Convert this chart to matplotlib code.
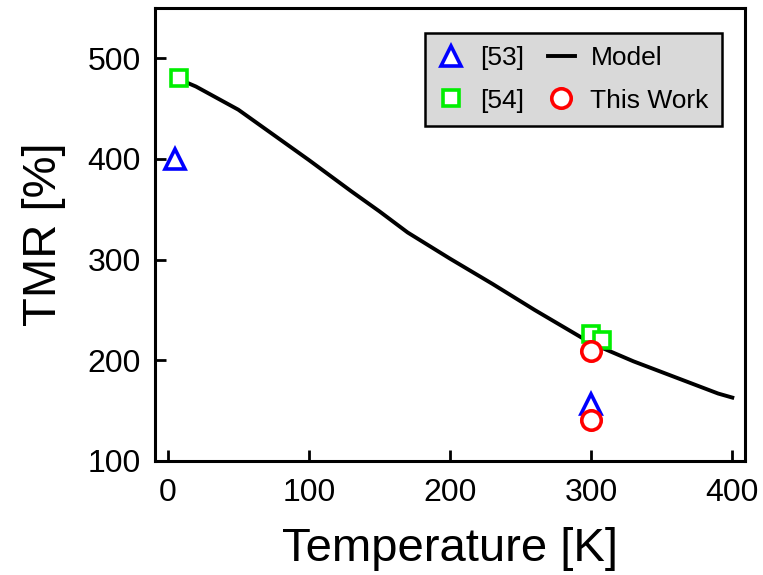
import matplotlib
matplotlib.use("Agg")
import matplotlib.pyplot as plt

plt.rcParams['font.family'] = ['Liberation Sans', 'DejaVu Sans']

# model curve
model_T = [10, 20, 50, 80, 100, 130, 150, 170, 200, 230, 260, 300, 330, 360, 390, 400]
model_tmr = [478, 472, 449, 419, 399, 368, 348, 327, 301, 276, 250, 217, 199, 183, 167, 163]

# ref [53]
ref53_T = [5, 300]
ref53_tmr = [400, 157]

# ref [54]
ref54_T = [8, 300, 308]
ref54_tmr = [480, 226, 220]

# this work
work_T = [300, 300]
work_tmr = [209, 141]

fig = plt.figure(figsize=(7.63, 5.75), dpi=100)
ax = fig.add_axes([155/763, 1-461/575, 590/763, 453/575])

ax.plot(model_T, model_tmr, color='black', lw=2.8, label='Model')
ax.plot(ref53_T, ref53_tmr, ls='none', marker='^', ms=14, mfc='white', mec='blue', mew=2.6, label='[53]')
ax.plot(ref54_T, ref54_tmr, ls='none', marker='s', ms=12, mfc='white', mec='#00ee00', mew=2.6, label='[54]')
ax.plot(work_T, work_tmr, ls='none', marker='o', ms=14, mfc='white', mec='red', mew=2.6, label='This Work')

ax.set_xlim(-9, 409)
ax.set_ylim(100, 550)
ax.set_xticks([0, 100, 200, 300, 400])
ax.set_yticks([100, 200, 300, 400, 500])
ax.tick_params(direction='in', length=8, width=2, labelsize=23, pad=10)
ax.tick_params(axis='x', pad=12)
for s in ax.spines.values():
    s.set_linewidth(2.2)

ax.set_xlabel('Temperature [K]', fontsize=34, labelpad=14)
ax.set_ylabel('TMR [%]', fontsize=34, labelpad=16)

h, l = ax.get_legend_handles_labels()
order = [1, 2, 0, 3]
leg = ax.legend([h[i] for i in order], [l[i] for i in order], ncol=2, loc='upper right',
                bbox_to_anchor=(0.961, 0.945), borderaxespad=0, fontsize=19, fancybox=False,
                framealpha=1, handlelength=1.0, columnspacing=0.9, handletextpad=0.6,
                borderpad=0.5, labelspacing=0.7)
leg.get_frame().set_facecolor('#d9d9d9')
leg.get_frame().set_edgecolor('black')
leg.get_frame().set_linewidth(1.8)

fig.savefig('out.png', dpi=100)
